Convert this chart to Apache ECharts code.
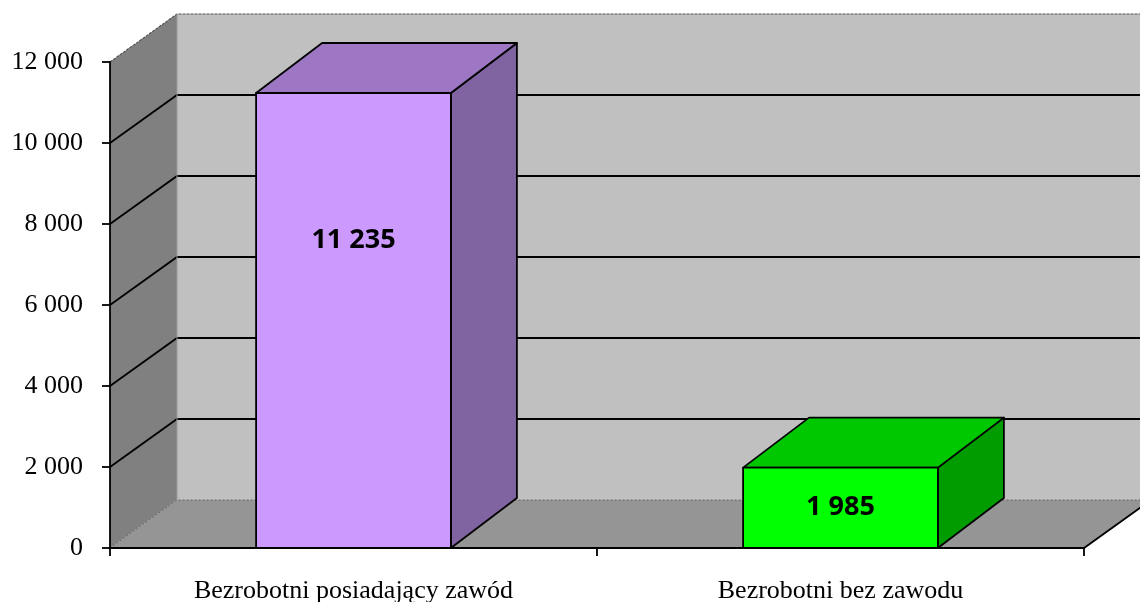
<!DOCTYPE html>
<html>
<head>
<meta charset="utf-8">
<script src="https://cdn.jsdelivr.net/npm/echarts@6/dist/echarts.min.js"></script>
<style>
html, body { margin: 0; padding: 0; background: #fff; }
#chart { width: 1140px; height: 602px; }
</style>
</head>
<body>
<div id="chart"></div>
<script>
var categories = ['Bezrobotni posiadający zawód', 'Bezrobotni bez zawodu'];
var values = [11235, 1985];
var yTicks = [0, 2000, 4000, 6000, 8000, 10000, 12000];

var barFront = ['#cc99ff', '#00ff00'];
var barTop = ['#9d77c3', '#00c800'];
var barSide = ['#8063a1', '#009c00'];

// depth of the fake 3d box
var wallDx = 67, wallDy = -48;
var barDx = 66, barDy = -50;

function fmt(v) {
    return String(v).replace(/\B(?=(\d{3})+(?!\d))/g, ' ');
}

var myChart = echarts.init(document.getElementById('chart'));

function renderWalls(params, api) {
    var cs = params.coordSys;
    var x0 = cs.x, x1 = cs.x + cs.width;
    var yb = api.coord([0, yTicks[0]])[1];
    var yt = api.coord([0, yTicks[yTicks.length - 1]])[1];
    var children = [];
    // back wall
    children.push({
        type: 'polygon',
        shape: { points: [[x0 + wallDx, yt + wallDy], [1200, yt + wallDy], [1200, yb + wallDy], [x0 + wallDx, yb + wallDy]] },
        style: { fill: '#c0c0c0', stroke: null }
    });
    // left wall
    children.push({
        type: 'polygon',
        shape: { points: [[x0, yt], [x0 + wallDx, yt + wallDy], [x0 + wallDx, yb + wallDy], [x0, yb]] },
        style: { fill: '#808080', stroke: null }
    });
    // floor
    children.push({
        type: 'polygon',
        shape: { points: [[x0, yb], [x1, yb], [x1 + wallDx, yb + wallDy], [1200, yb + wallDy], [x0 + wallDx, yb + wallDy]] },
        style: { fill: '#959595', stroke: null }
    });
    // gridlines
    for (var i = 1; i < yTicks.length - 1; i++) {
        var y = api.coord([0, yTicks[i]])[1];
        children.push({
            type: 'polyline',
            shape: { points: [[x0, y], [x0 + wallDx, y + wallDy], [1200, y + wallDy]] },
            style: { stroke: '#000', lineWidth: 1.8, fill: null }
        });
    }
    // edges of the box
    children.push({
        type: 'polyline',
        shape: { points: [[x0, yt], [x0 + wallDx, yt + wallDy], [1200, yt + wallDy]] },
        style: { stroke: '#555', lineWidth: 1.2, fill: null, lineDash: [3, 1] }
    });
    children.push({
        type: 'polyline',
        shape: { points: [[x0, yb], [x0 + wallDx, yb + wallDy], [1200, yb + wallDy]] },
        style: { stroke: '#666', lineWidth: 1, fill: null, lineDash: [2, 2] }
    });
    children.push({
        type: 'line',
        shape: { x1: x0 + wallDx, y1: yt + wallDy, x2: x0 + wallDx, y2: yb + wallDy },
        style: { stroke: '#9a9a9a', lineWidth: 1 }
    });
    children.push({
        type: 'polyline',
        shape: { points: [[x0, yb], [x1, yb], [x1 + wallDx, yb + wallDy]] },
        style: { stroke: '#000', lineWidth: 1.8, fill: null }
    });
    return { type: 'group', children: children };
}

function renderBar(params, api) {
    var idx = api.value(0);
    var val = api.value(1);
    var bottom = api.coord([idx, 0]);
    var top = api.coord([idx, val]);
    var w = api.size([1, 0])[0] * 0.4;
    var xl = bottom[0] - w / 2, xr = bottom[0] + w / 2;
    var yb = bottom[1], yt = top[1];
    var line = { stroke: '#000', lineWidth: 1.8, lineJoin: 'round' };
    var i = params.dataIndex;
    var labelY = yt + Math.min((yb - yt) / 2, 147);
    return {
        type: 'group',
        children: [
            {
                type: 'polygon',
                shape: { points: [[xr, yb], [xr, yt], [xr + barDx, yt + barDy], [xr + barDx, yb + barDy]] },
                style: Object.assign({ fill: barSide[i] }, line)
            },
            {
                type: 'polygon',
                shape: { points: [[xl, yt], [xl + barDx, yt + barDy], [xr + barDx, yt + barDy], [xr, yt]] },
                style: Object.assign({ fill: barTop[i] }, line)
            },
            {
                type: 'rect',
                shape: { x: xl, y: yt, width: w, height: yb - yt },
                style: Object.assign({ fill: barFront[i] }, line)
            },
            {
                type: 'text',
                style: {
                    text: fmt(val), x: bottom[0], y: labelY,
                    align: 'center', verticalAlign: 'middle',
                    font: 'bold 27px "Open Sans", sans-serif', fill: '#000'
                }
            }
        ]
    };
}

var option = {
    animation: false,
    grid: { left: 110, right: 56, top: 62, bottom: 54, containLabel: false, outerBoundsMode: 'none' },
    xAxis: {
        type: 'category',
        data: categories,
        z: 5,
        axisLine: { lineStyle: { color: '#000', width: 1.8 } },
        axisTick: { show: true, length: 8, lineStyle: { color: '#000', width: 1.8 } },
        axisLabel: {
            color: '#000', fontFamily: '"Liberation Serif", serif', fontSize: 26, margin: 30
        },
        splitLine: { show: false }
    },
    yAxis: {
        type: 'value',
        min: 0,
        max: 12000,
        interval: 2000,
        z: 5,
        axisLine: { show: true, lineStyle: { color: '#000', width: 1.8 } },
        axisTick: { show: true, length: 8, lineStyle: { color: '#000', width: 1.8 } },
        axisLabel: {
            color: '#000', fontFamily: '"Liberation Serif", serif', fontSize: 26, margin: 27,
            formatter: fmt
        },
        splitLine: { show: false }
    },
    series: [
        {
            type: 'custom',
            name: 'walls',
            renderItem: renderWalls,
            data: [[0, 0]],
            z: 1,
            silent: true
        },
        {
            type: 'custom',
            name: 'bars',
            renderItem: renderBar,
            data: values.map(function (v, i) { return [i, v]; }),
            z: 3
        }
    ]
};
myChart.setOption(option);
</script>
</body>
</html>
